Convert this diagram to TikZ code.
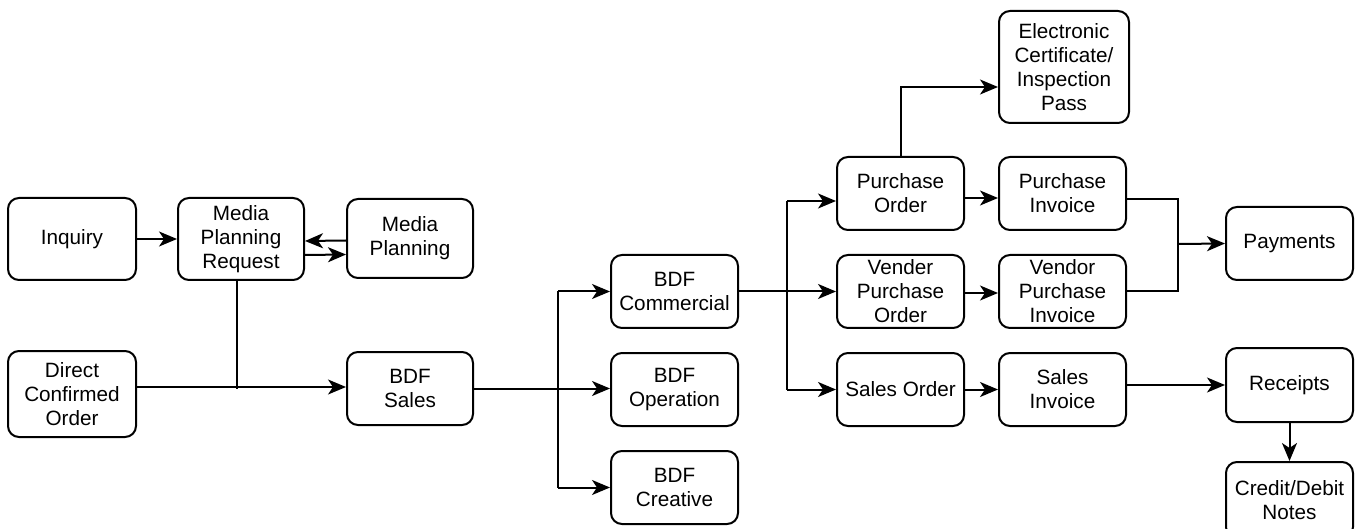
\documentclass[tikz,border=0pt]{standalone}
\usepackage{fontspec}
\setmainfont{Liberation Sans}
\usetikzlibrary{arrows.meta}
\tikzset{
  box/.style={draw=black, line width=2pt, rounded corners=11pt, align=center,
    inner sep=0pt, font=\fontsize{20.7}{24}\selectfont},
  conn/.style={line width=2pt, draw=black},
  arr/.style={conn, -{Stealth[length=18pt,width=15pt,inset=5pt]}},
}
\begin{document}
\begin{tikzpicture}[x=1pt,y=-1pt]
\useasboundingbox (0,0) rectangle (1360,529);
% boxes
\node[box, minimum width=128pt, minimum height=82pt] (inq) at (72,239) {Inquiry};
\node[box, minimum width=126pt, minimum height=82pt] (mpr) at (241,239) {Media\\Planning\\Request};
\node[box, minimum width=126pt, minimum height=79pt] (mp) at (410,238.5) {Media\\Planning};
\node[box, minimum width=128pt, minimum height=86pt] (dco) at (72,394) {Direct\\Confirmed\\Order};
\node[box, minimum width=126pt, minimum height=73pt] (bsales) at (410,388.5) {BDF\\Sales};
\node[box, minimum width=127pt, minimum height=73pt] (bcom) at (674.5,291.5) {BDF\\Commercial};
\node[box, minimum width=127pt, minimum height=73pt] (bop) at (674.5,389.5) {BDF\\Operation};
\node[box, minimum width=127pt, minimum height=73pt] (bcre) at (674.5,487.5) {BDF\\Creative};
\node[box, minimum width=130pt, minimum height=112pt] (ecip) at (1064,67) {Electronic\\Certificate/\\Inspection\\Pass};
\node[box, minimum width=127pt, minimum height=73pt] (po) at (900.5,193.5) {Purchase\\Order};
\node[box, minimum width=127pt, minimum height=73pt] (pi) at (1062.5,193.5) {Purchase\\Invoice};
\node[box, minimum width=127pt, minimum height=73pt] (vpo) at (900.5,291.5) {Vender\\Purchase\\Order};
\node[box, minimum width=127pt, minimum height=73pt] (vpi) at (1062.5,291.5) {Vendor\\Purchase\\Invoice};
\node[box, minimum width=127pt, minimum height=73pt] (so) at (900.5,389.5) {Sales Order};
\node[box, minimum width=127pt, minimum height=73pt] (si) at (1062.5,389.5) {Sales\\Invoice};
\node[box, minimum width=127pt, minimum height=73pt] (pay) at (1289.5,243.5) {Payments};
\node[box, minimum width=127pt, minimum height=74pt] (rec) at (1289.5,385) {Receipts};
\node[box, minimum width=127pt, minimum height=76pt] (cdn) at (1289.5,500) {Credit/Debit\\Notes};
% junction coordinates
\coordinate (j0) at (237,387);
\coordinate (j1) at (558,291);
\coordinate (j2) at (787,201);
\coordinate (j3) at (1178,244);
\coordinate (j4) at (901,87);
% connectors
\draw[arr] (inq.east) -- (mpr.west);
\draw[arr] ([yshift=-2pt]mp.west) -- ([yshift=-2pt]mpr.east);
\draw[arr] ([yshift=-16pt]mpr.east) -- ([yshift=-16pt]mp.west);
\draw[conn] (mpr.south -| j0) -- ([yshift=-2pt]j0);
\draw[arr] (dco.east |- j0) -- (bsales.west |- j0);
\draw[arr] (bsales.east) -- (bop.west |- bsales.east);
\draw[conn] (j1 |- bcom.west) -- (j1 |- bcre.west);
\draw[arr] (j1 |- bcom.west) -- (bcom.west);
\draw[arr] (j1 |- bcre.west) -- (bcre.west);
\draw[arr] (bcom.east) -- (vpo.west);
\draw[conn] (j2) -- (j2 |- so.west);
\draw[arr] (j2) -- (po.west |- j2);
\draw[arr] (j2 |- so.west) -- (so.west);
\draw[arr] (po.south -| j4) ++(0,-73) -- (j4) -- (ecip.west |- j4);
\draw[arr] ([yshift=-4.5pt]po.east) -- ([yshift=-4.5pt]pi.west);
\draw[arr] ([yshift=-1.5pt]vpo.east) -- ([yshift=-1.5pt]vpi.west);
\draw[arr] (so.east) -- (si.west);
\draw[arr] (si.east |- rec.west) -- (rec.west);
\draw[arr] (rec.south) -- (cdn.north);
\draw[conn] ([yshift=-6pt]pi.east) -- ([yshift=-6pt]pi.east -| j3) -- (vpi.east -| j3) -- (vpi.east);
\draw[arr] (j3) -- (pay.west);
\end{tikzpicture}
\end{document}
